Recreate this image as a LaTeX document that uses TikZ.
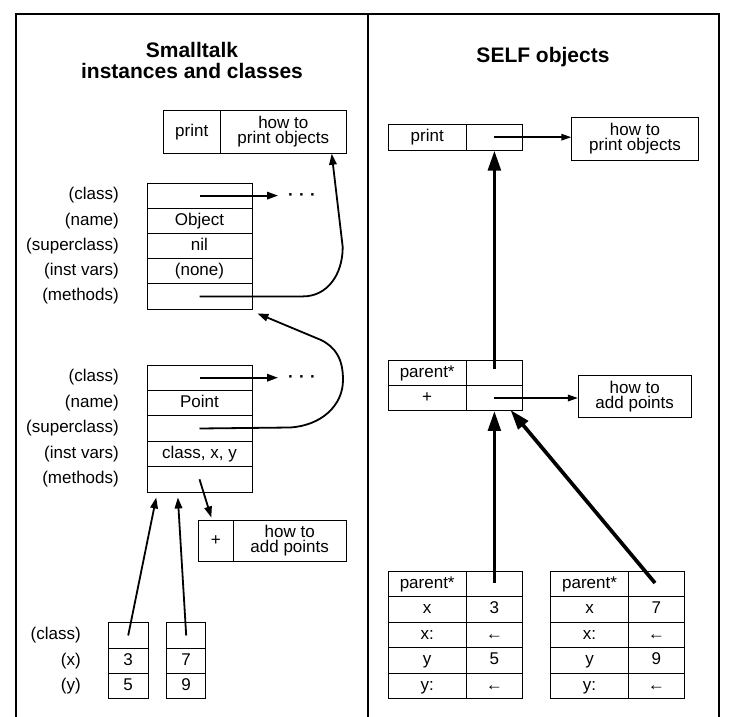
\documentclass[tikz,border=0pt]{standalone}
\usepackage{fontspec}
\setmainfont{Liberation Sans}
\usetikzlibrary{arrows.meta}
\newcommand\stbody{\fontsize{17}{15}\selectfont}
\newcommand\sttitle{\bfseries\fontsize{21}{21}\selectfont}
\newcommand\stdots{\textbf{·\hspace{5.3pt}·\hspace{5.3pt}·}}
\begin{document}
\begin{tikzpicture}[x=1pt,y=-1pt,
  cell/.style={draw, line width=0.9pt, inner sep=0pt, font=\stbody, text height=12pt, text depth=3.5pt},
  mcell/.style={draw, line width=0.9pt, inner sep=0pt, font=\stbody, align=center},
  lbl/.style={anchor=east, inner sep=0pt, font=\stbody, text height=12pt, text depth=3.5pt},
  ttl/.style={font=\sttitle, align=center, inner sep=0pt},
  dotsnode/.style={anchor=base, inner xsep=10pt, inner ysep=0pt, font=\stbody},
  thinarr/.style={line width=1.8pt, -{Triangle[length=11pt,width=7.5pt]}},
  hzarr/.style={line width=1.6pt, -{Triangle[length=10pt,width=6.5pt]}},
  thickarr/.style={line width=3.7pt, -{Triangle[length=20pt,width=12.5pt]}},
  frame/.style={line width=1.2pt}
]
\useasboundingbox (0,0) rectangle (736,717);
% frame
\draw[frame] (16,717) -- (16,14) -- (719,14) -- (719,717);
\draw[frame] (368,14) -- (368,717);

% titles
\node[ttl] (tleft) at (192,60.5) {Smalltalk\\instances and classes};
\node[ttl, anchor=base] (tright) at (543,63) {SELF objects};

% ---------- Smalltalk side ----------
% print box
\node[cell, minimum width=56.7pt, minimum height=42.6pt] (lpp) at (191.7,132) {print};
\node[mcell, minimum width=126.7pt, minimum height=42.6pt] (lph) at (283.3,132) {how to\\print objects};

% Object class
\foreach \nm/\yy/\tx/\lb in {oc/195.6//(class), on/220.8/Object/(name), os/246.0/nil/(superclass), oi/271.2/(none)/(inst vars), om/296.4//(methods)}{
  \node[cell, minimum width=105pt, minimum height=25.2pt] (\nm) at (199.5,\yy) {\tx};
  \node[lbl] (l\nm) at (119,\yy) {\lb};
}
\node[dotsnode] (dA) at (302,200.5) {\stdots};
\draw[thinarr] (oc.center) -- (oc.center -| dA.west);

% Point class
\foreach \nm/\yy/\tx/\lb in {pc/377.7//(class), pn/403.1/Point/(name), ps/428.5//(superclass), pi/453.9/{class, x, y}/(inst vars), pm/479.3//(methods)}{
  \node[cell, minimum width=105pt, minimum height=25.4pt] (\nm) at (199.5,\yy) {\tx};
  \node[lbl] (l\nm) at (119,\yy) {\lb};
}
\node[dotsnode] (dB) at (302,382.6) {\stdots};
\draw[thinarr] (pc.center) -- (pc.center -| dB.west);

% add points box
\node[cell, minimum width=35pt, minimum height=41.7pt] (plus) at (215.8,540.8) {+};
\node[mcell, minimum width=112.7pt, minimum height=41.7pt] (addl) at (289.7,540.8) {how to\\add points};

% instances
\foreach \nm/\yy/\ta/\tb/\lb in {c/635.5///(class), x/660.8/3/7/(x), y/686.1/5/9/(y)}{
  \node[cell, minimum width=39.7pt, minimum height=25.4pt] (ia\nm) at (128.2,\yy) {\ta};
  \node[cell, minimum width=39pt, minimum height=25.4pt] (ib\nm) at (186.2,\yy) {\tb};
  \node[lbl] (li\nm) at (81,\yy) {\lb};
}

% Smalltalk connectors
\draw[thinarr] (om.center) -- (303,296.4) .. controls (327,296.4) and (342.7,275) .. (342.7,247) -- ([xshift=48.4pt]lph.south);
\draw[thinarr] (ps.center) -- (290,427.5) .. controls (322,425.5) and (343,405) .. (343,380) .. controls (343,358) and (335,347) .. (321,340) -- ([shift={(5,4)}]om.south east);
\draw[thinarr] (pm.center) -- ([xshift=-4.5pt,yshift=2pt]plus.north);
\draw[thinarr] (iac.center) -- ([shift={(9.7,5)}]pm.south west);
\draw[thinarr] (ibc.center) -- ([shift={(31.3,5)}]pm.south west);

% ---------- SELF side ----------
\node[cell, minimum width=77.7pt, minimum height=25.7pt] (rp1) at (427.2,137.2) {print};
\node[cell, minimum width=56.7pt, minimum height=25.7pt] (rp2) at (494.4,137.2) {};
\node[mcell, minimum width=126.6pt, minimum height=42.3pt] (rph) at (635,138.9) {how to\\print objects};
\draw[hzarr] (rp2.center) -- (rp2.center -| rph.west);

\node[cell, minimum width=77.7pt, minimum height=25pt] (pp1) at (427.2,373) {parent*};
\node[cell, minimum width=56.7pt, minimum height=25pt] (pp2) at (494.4,373) {};
\node[cell, minimum width=77.7pt, minimum height=25pt] (pq1) at (427.2,398) {+};
\node[cell, minimum width=56.7pt, minimum height=25pt] (pq2) at (494.4,398) {};
\node[mcell, minimum width=112.7pt, minimum height=42.7pt] (radd) at (634.7,396.3) {how to\\add points};
\draw[hzarr] (pq2.center) -- (pq2.center -| radd.west);
\draw[thickarr] ([yshift=4pt]pp2.center) -- (rp2.south);

\foreach \nm/\yy/\hh/\la/\va/\vb in {a/584/25/parent*//, b/609.5/26/x/3/7, c/635/25/x:/←/←, d/660.5/26/y/5/9, e/686/25/y:/←/←}{
  \node[cell, minimum width=77.7pt, minimum height=\hh pt] (sa\nm) at (427.2,\yy) {\la};
  \node[cell, minimum width=56.7pt, minimum height=\hh pt] (ta\nm) at (494.4,\yy) {\va};
  \node[cell, minimum width=77.6pt, minimum height=\hh pt] (sb\nm) at (589.5,\yy) {\la};
  \node[cell, minimum width=56pt, minimum height=\hh pt] (tb\nm) at (656.3,\yy) {\vb};
}
\draw[thickarr] ([yshift=1pt]taa.center) -- (pq2.south);
\draw[thickarr] ([xshift=-1.3pt,yshift=1pt]tba.center) -- ([xshift=-12.7pt,yshift=1pt]pq2.south east);
\end{tikzpicture}
\end{document}
